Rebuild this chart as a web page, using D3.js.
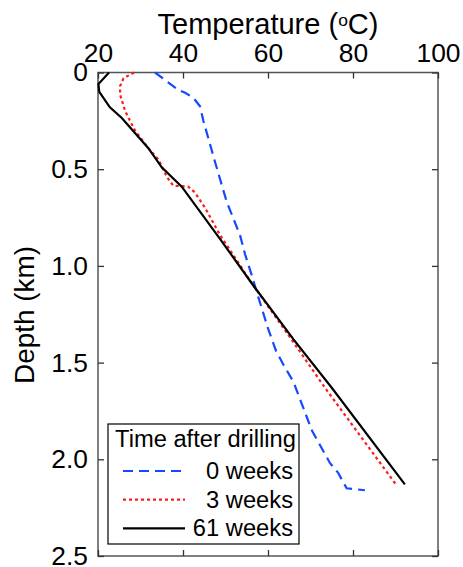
<!DOCTYPE html>
<html>
<head>
<meta charset="utf-8">
<script src="https://cdn.jsdelivr.net/npm/d3@7"></script>
<style>
  html, body { margin: 0; padding: 0; background: #fff; }
  svg { display: block; }
  text { font-family: "Liberation Sans", Arial, Helvetica, sans-serif; fill: #000; }
</style>
</head>
<body>
<script>
// ---- data (temperature °C, depth km) ----
const seriesNames = ["0 weeks", "3 weeks", "61 weeks"];
const week0 = [[33.4,0],[38.9,0.09],[40.5,0.105],[42.4,0.13],[44.0,0.175],[44.8,0.25],[47.5,0.46],[50.3,0.67],[53.4,0.84],[54.6,0.94],[56.2,1.05],[57.7,1.16],[60.1,1.33],[61.9,1.44],[63.6,1.51],[66.0,1.60],[69.1,1.78],[70.3,1.85],[74.6,2.02],[76.5,2.07],[78.5,2.15],[82.8,2.16]];
const week3 = [[28.5,0],[26.0,0.03],[25.2,0.07],[25.2,0.115],[26.4,0.2],[28.7,0.3],[31.8,0.39],[34.2,0.45],[36.2,0.54],[37.7,0.585],[41.2,0.59],[42.8,0.62],[45.2,0.70],[48.7,0.84],[56.5,1.10],[65.2,1.37],[73.4,1.63],[90.1,2.13]];
const week61 = [[22.6,0],[20.1,0.06],[20.3,0.1],[22.8,0.18],[25.6,0.235],[31.8,0.39],[35.0,0.49],[39.7,0.59],[48.7,0.86],[56.5,1.10],[66.0,1.38],[75.0,1.63],[92.2,2.13]];
const xTicks = [20, 40, 60, 80, 100];
const yTicks = [0, 0.5, 1.0, 1.5, 2.0, 2.5];
const yTickLabels = ["0", "0.5", "1.0", "1.5", "2.0", "2.5"];
const legendTitle = "Time after drilling";
const xTitle = "Temperature (";
const yTitle = "Depth (km)";

const W = 463, H = 567;
const mLeft = 98, mRight = 438, mTop = 72.5, mBottom = 556;

const svg = d3.select("body").append("svg").attr("width", W).attr("height", H);

const x = d3.scaleLinear().domain([20, 100]).range([mLeft, mRight]);
const y = d3.scaleLinear().domain([0, 2.5]).range([mTop, mBottom]);

// scale a text's font so its rendered width matches a target
function fitWidth(sel, target, base) {
  const w = sel.node().getBBox().width;
  if (w > 0) {
    const f = base * target / w;
    sel.attr("font-size", f);
    sel.selectAll("tspan").each(function () {
      const t = d3.select(this);
      const fs = t.attr("data-rel");
      if (fs) t.attr("font-size", f * +fs);
    });
    return f;
  }
  return base;
}

// frame
svg.append("rect").attr("x", mLeft).attr("y", mTop).attr("width", mRight - mLeft).attr("height", mBottom - mTop)
  .attr("fill", "none").attr("stroke", "#555").attr("stroke-width", 1.5);

const tickLen = 6;
const gTop = svg.append("g").attr("transform", `translate(0,${mTop})`)
  .call(d3.axisTop(x).tickValues(xTicks).tickSize(-tickLen).tickPadding(10.5).tickFormat(d3.format("d")));
const gBot = svg.append("g").attr("transform", `translate(0,${mBottom})`)
  .call(d3.axisBottom(x).tickValues(xTicks).tickSize(-tickLen).tickFormat(""));
const gLeft = svg.append("g").attr("transform", `translate(${mLeft},0)`)
  .call(d3.axisLeft(y).tickValues(yTicks).tickSize(-tickLen).tickPadding(10).tickFormat((d, i) => yTickLabels[i]));
const gRight = svg.append("g").attr("transform", `translate(${mRight},0)`)
  .call(d3.axisRight(y).tickValues(yTicks).tickSize(-tickLen).tickFormat(""));
[gTop, gBot, gLeft, gRight].forEach(g => {
  g.select(".domain").remove();
  g.selectAll(".tick line").attr("stroke", "#333").attr("stroke-width", 1.3);
  g.selectAll("text").attr("font-size", 26).attr("font-family", "Liberation Sans, Arial, sans-serif").attr("fill", "#000");
});
// "100" label should be ~44px wide in the reference
const lbl100 = gTop.selectAll(".tick text").filter(d => d === 100);
const tickFont = fitWidth(lbl100, 44, 26);
gTop.selectAll(".tick text").attr("font-size", tickFont);
gLeft.selectAll(".tick text").attr("font-size", tickFont);

// axis titles
const xt = svg.append("text").attr("x", (mLeft + mRight) / 2).attr("y", 34).attr("text-anchor", "middle").attr("font-size", 28.5);
xt.append("tspan").text(xTitle);
xt.append("tspan").attr("data-rel", 0.6).attr("font-size", 17).attr("dy", -8).text("o");
xt.append("tspan").attr("dy", 8).text("C)");
fitWidth(xt, 221, 28.5);

const yt = svg.append("text").attr("transform", `translate(34,315) rotate(-90)`)
  .attr("text-anchor", "middle").attr("font-size", 28.5).text(yTitle);
fitWidth(yt, 138, 28.5);

// lines
const line = d3.line().x(d => x(d[0])).y(d => y(d[1]));
const styles = [
  { data: week0, color: "#1548ff", dash: "10,6" },
  { data: week3, color: "#ff1a1a", dash: "3,3" },
  { data: week61, color: "#000", dash: null }
];
styles.forEach(s => {
  svg.append("path").datum(s.data).attr("d", line).attr("fill", "none")
    .attr("stroke", s.color).attr("stroke-width", 2.2).attr("stroke-dasharray", s.dash);
});

// legend
const lg = svg.append("g");
lg.append("rect").attr("x", 108).attr("y", 424).attr("width", 191).attr("height", 120)
  .attr("fill", "#fff").attr("stroke", "#000").attr("stroke-width", 1.2);
const lt = lg.append("text").attr("x", 205.5).attr("y", 447).attr("text-anchor", "middle").attr("font-size", 24).text(legendTitle);
const legFont = fitWidth(lt, 181, 24);
styles.forEach((s, i) => {
  const ly = 471 + i * 28.7;
  lg.append("line").attr("x1", 123).attr("x2", 185).attr("y1", ly).attr("y2", ly)
    .attr("stroke", s.color).attr("stroke-width", 2.2).attr("stroke-dasharray", s.dash);
  lg.append("text").attr("x", 293).attr("y", ly + 8).attr("text-anchor", "end").attr("font-size", legFont).text(seriesNames[i]);
});
</script>
</body>
</html>
